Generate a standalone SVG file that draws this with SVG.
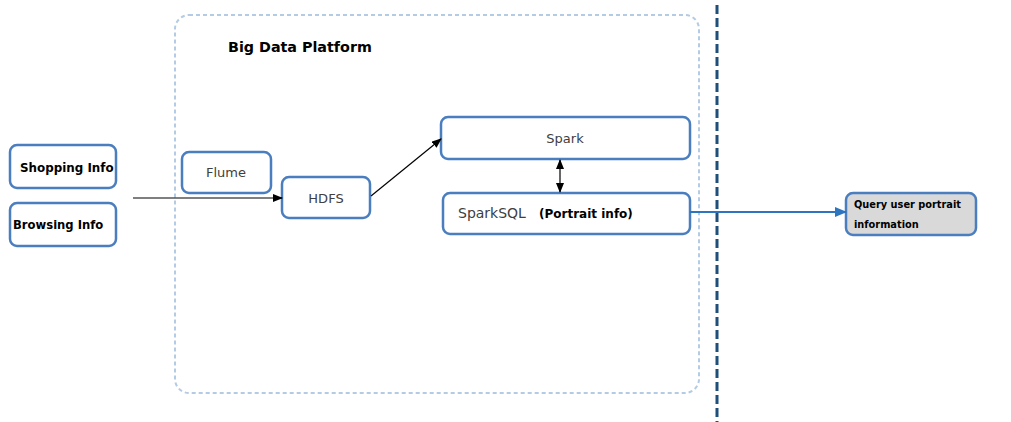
<svg xmlns="http://www.w3.org/2000/svg" width="1011" height="422" viewBox="0 0 1011 422">
<style>
.box{fill:#fff;stroke:#4a7ebf;stroke-width:2.5}
.b{font-family:"DejaVu Sans","Liberation Sans",sans-serif;font-weight:bold;fill:#000}
.n{font-family:"DejaVu Sans","Liberation Sans",sans-serif;fill:#404040}
.c{stroke:#000;stroke-width:1.2;fill:none}
</style>
<defs>
<marker id="ah" markerWidth="10" markerHeight="8" refX="9" refY="4" orient="auto-start-reverse" markerUnits="userSpaceOnUse"><path d="M0,0 L10,4 L0,8 z" fill="#000"/></marker>
<marker id="ab" markerWidth="12" markerHeight="10" refX="11" refY="5" orient="auto" markerUnits="userSpaceOnUse"><path d="M0,0 L12,5 L0,10 z" fill="#2e75c0"/></marker>
</defs>
<rect width="1011" height="422" fill="#fff"/>
<g id="platform">
<rect x="175" y="15" width="524" height="378" rx="14" fill="none" stroke="#b3cbe4" stroke-width="2" stroke-dasharray="4,3"/>
<text class="b" x="228" y="52" font-size="14.3">Big Data Platform</text>
</g>
<g id="divider"><line x1="717" y1="5" x2="717" y2="422" stroke="#1f4e79" stroke-width="3" stroke-dasharray="9,4"/></g>
<g id="shopping"><rect class="box" x="10" y="145" width="106" height="43" rx="7"/><text class="b" x="20" y="172" font-size="11.9">Shopping Info</text></g>
<g id="browsing"><rect class="box" x="10" y="203" width="106" height="43" rx="7"/><text class="b" x="13" y="229" font-size="11.6">Browsing Info</text></g>
<g id="flume"><rect class="box" x="182" y="152" width="89" height="41" rx="7"/><text class="n" x="226" y="177" font-size="13" text-anchor="middle">Flume</text></g>
<g id="hdfs"><rect class="box" x="282" y="177" width="88" height="41" rx="7"/><text class="n" x="326" y="203" font-size="13" text-anchor="middle">HDFS</text></g>
<g id="spark"><rect class="box" x="441" y="117" width="249" height="42" rx="7"/><text class="n" x="565" y="143" font-size="13" text-anchor="middle">Spark</text></g>
<g id="sparksql"><rect class="box" x="443" y="193" width="247" height="41" rx="7"/><text class="n" x="458" y="218" font-size="14">SparkSQL</text><text class="b" x="539" y="218" font-size="12">(Portrait info)</text></g>
<g id="query"><rect x="846" y="193" width="130" height="42" rx="7" fill="#d9d9d9" stroke="#4a7ebf" stroke-width="2.5"/><text class="b" x="854" y="208" font-size="9.8">Query user portrait</text><text class="b" x="854" y="228" font-size="9.8">information</text></g>
<g id="connectors">
<line class="c" x1="133" y1="198" x2="282" y2="198" marker-end="url(#ah)"/>
<line class="c" x1="371" y1="196" x2="441" y2="139" marker-end="url(#ah)"/>
<line class="c" x1="560" y1="160" x2="560" y2="192" marker-start="url(#ah)" marker-end="url(#ah)"/>
<line x1="690" y1="212" x2="846" y2="212" stroke="#2e75c0" stroke-width="2" marker-end="url(#ab)"/>
</g>
</svg>
